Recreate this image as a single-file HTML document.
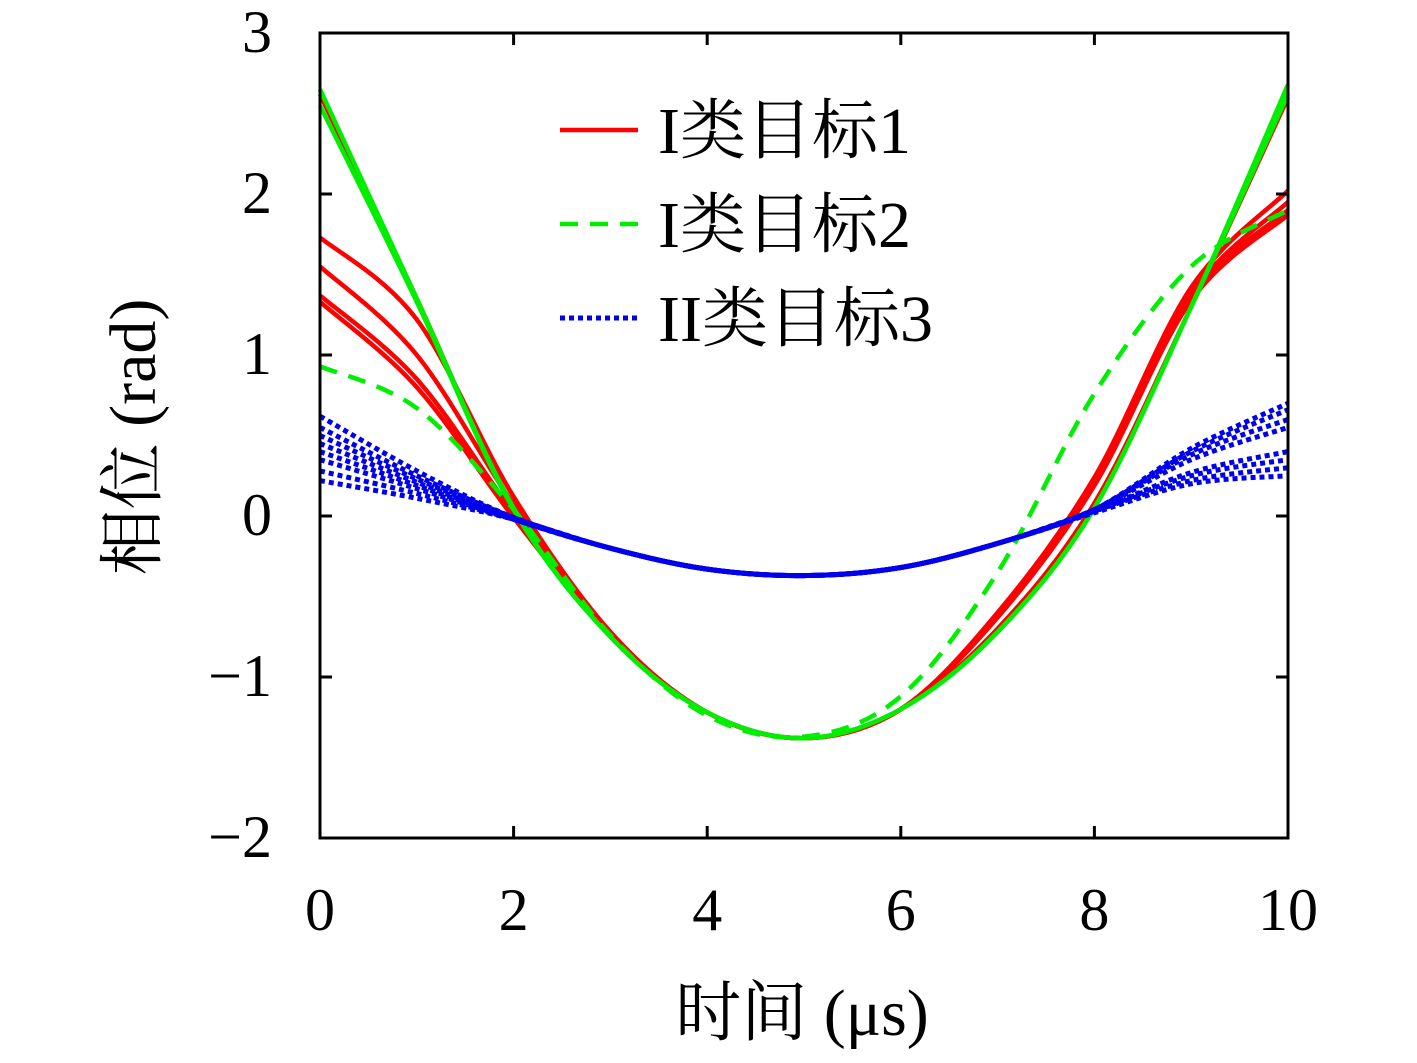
<!DOCTYPE html>
<html><head><meta charset="utf-8"><style>
html,body{margin:0;padding:0;background:#fff;}
svg text{font-family:"Liberation Serif","Noto Serif CJK SC",serif;fill:#000;}
</style></head><body>
<svg id="chart" width="1417" height="1058" viewBox="0 0 1417 1058" xmlns="http://www.w3.org/2000/svg">
<g id="plot"></g>
<g id="axes"></g>
<g id="legend"></g>
</svg>
<script>
const tSamples=[0,1,2,3,4,5,6,7,8,9,10];
const redSeries=[
 [2.62,1.35,0.05,-0.75,-1.22,-1.38,-1.2,-0.7,0.08,1.3,2.6],
 [1.73,1.22,0.12,-0.72,-1.22,-1.38,-1.2,-0.6,0.24,1.42,2.02],
 [1.55,1.0,0.07,-0.73,-1.22,-1.38,-1.2,-0.61,0.22,1.38,1.95],
 [1.37,0.85,0.02,-0.74,-1.22,-1.38,-1.2,-0.62,0.2,1.36,1.9],
 [1.33,0.8,-0.01,-0.74,-1.22,-1.38,-1.2,-0.63,0.19,1.34,1.87]
];
const greenSeries=[
 [2.65,1.35,0.05,-0.75,-1.22,-1.38,-1.2,-0.72,0.05,1.3,2.68],
 [2.55,1.33,0.04,-0.75,-1.22,-1.38,-1.2,-0.72,0.05,1.3,2.62]
];
const greenDashed=[0.93,0.67,0.04,-0.74,-1.24,-1.37,-1.12,-0.35,0.76,1.55,1.9];
const blueSeries=[
 [0.62,0.28,-0.01,-0.2,-0.33,-0.37,-0.32,-0.17,0.04,0.42,0.7],
 [0.55,0.25,-0.01,-0.2,-0.33,-0.37,-0.32,-0.17,0.04,0.4,0.66],
 [0.5,0.23,-0.01,-0.2,-0.33,-0.37,-0.32,-0.17,0.04,0.38,0.6],
 [0.45,0.21,-0.02,-0.2,-0.33,-0.37,-0.32,-0.17,0.04,0.35,0.55],
 [0.4,0.19,-0.02,-0.2,-0.33,-0.37,-0.32,-0.17,0.03,0.27,0.4],
 [0.35,0.17,-0.02,-0.2,-0.33,-0.37,-0.32,-0.17,0.03,0.25,0.35],
 [0.28,0.14,-0.02,-0.2,-0.33,-0.37,-0.32,-0.17,0.03,0.22,0.3],
 [0.22,0.11,-0.02,-0.2,-0.33,-0.37,-0.32,-0.17,0.02,0.2,0.25]
];
const xTicks=[0,2,4,6,8,10];
const yTicks=[3,2,1,0,-1,-2];
const yTickLabels=["3","2","1","0","\u22121","\u22122"];
const legendLabels=["I类目标1","I类目标2","II类目标3"];

const X0=320,X1=1288,Y0=33,Y1=838;
const xs=t=>X0+(t-0)/(10-0)*(X1-X0);
const ys=v=>Y0+(3-v)/(3-(-2))*(Y1-Y0);
const NS="http://www.w3.org/2000/svg";
function mk(tag,attrs,parent){const e=document.createElementNS(NS,tag);for(const k in attrs)e.setAttribute(k,attrs[k]);parent.appendChild(e);return e;}
function pathFor(vals){
 const p=vals.map((v,i)=>[xs(tSamples[i]),ys(v)]);
 let d="M"+p[0][0]+","+p[0][1];
 for(let i=0;i<p.length-1;i++){
  const a=p[Math.max(i-1,0)],b=p[i],c=p[i+1],e=p[Math.min(i+2,p.length-1)];
  const c1=[b[0]+(c[0]-a[0])/6,b[1]+(c[1]-a[1])/6],c2=[c[0]-(e[0]-b[0])/6,c[1]-(e[1]-b[1])/6];
  d+=" C"+c1+" "+c2+" "+c;
 }
 return d;
}
const plot=document.getElementById('plot');
redSeries.forEach(s=>{const e=mk('path',{d:pathFor(s),fill:'none',stroke:'#ff0000','stroke-width':4.5},plot);

});
greenSeries.forEach(s=>{const e=mk('path',{d:pathFor(s),fill:'none',stroke:'#00ee00','stroke-width':4.5},plot);

});
{const e=mk('path',{d:pathFor(greenDashed),fill:'none',stroke:'#00ee00','stroke-width':4.5,'stroke-dasharray':'18,12'},plot);

}
blueSeries.forEach(s=>{const e=mk('path',{d:pathFor(s),fill:'none',stroke:'#0000ee','stroke-width':5,'stroke-dasharray':'5,4'},plot);

});

const axes=document.getElementById('axes');
{const e=mk('rect',{x:X0,y:Y0,width:X1-X0,height:Y1-Y0,fill:'none',stroke:'#000','stroke-width':3},axes);

}
xTicks.forEach(t=>{const x=xs(t);
 mk('line',{x1:x,x2:x,y1:Y1,y2:Y1-12,stroke:'#000','stroke-width':3},axes);
 mk('line',{x1:x,x2:x,y1:Y0,y2:Y0+12,stroke:'#000','stroke-width':3},axes);
 const tx=mk('text',{x:x,y:930,'font-size':60,'text-anchor':'middle'},axes);tx.textContent=t;
 
 });
yTicks.forEach((v,i)=>{const y=ys(v);
 mk('line',{x1:X0,x2:X0+12,y1:y,y2:y,stroke:'#000','stroke-width':3},axes);
 mk('line',{x1:X1,x2:X1-12,y1:y,y2:y,stroke:'#000','stroke-width':3},axes);
 const tx=mk('text',{x:272,y:y+19,'font-size':60,'text-anchor':'end'},axes);tx.textContent=yTickLabels[i];
 
 });
{const tx=mk('text',{x:802,y:1035,'font-size':66,'text-anchor':'middle'},axes);tx.textContent="时间 (μs)";

}
{const tx=mk('text',{x:0,y:0,'font-size':66,'text-anchor':'middle',transform:'translate(155,437) rotate(-90)'},axes);tx.textContent="相位 (rad)";

}

const legend=document.getElementById('legend');
const legStyles=[{stroke:'#ff0000'},{stroke:'#00ee00','stroke-dasharray':'18,12'},{stroke:'#0000ee','stroke-dasharray':'5,4','stroke-width':5}];
legendLabels.forEach((lab,i)=>{const y=130+i*94;
 const g=mk('g',{},legend);
 
 
 mk('line',Object.assign({x1:560,x2:638,y1:y,y2:y,'stroke-width':4.5},legStyles[i]),g);
 const tx=mk('text',{x:658,y:y+23,'font-size':66},g);tx.textContent=lab;});
</script>
</body></html>
